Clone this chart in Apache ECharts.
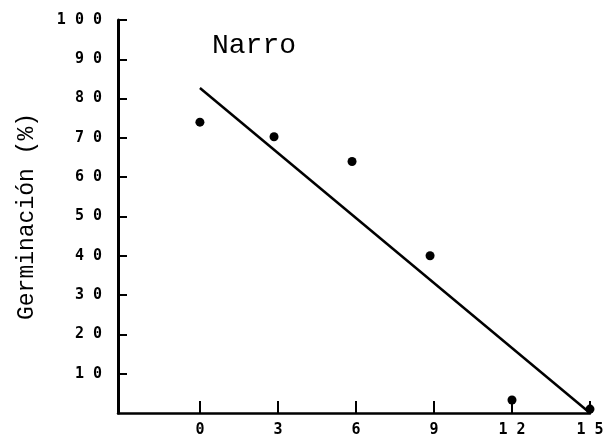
<!DOCTYPE html>
<html>
<head>
<meta charset="utf-8">
<script src="https://cdn.jsdelivr.net/npm/echarts@6/dist/echarts.min.js"></script>
<style>
html,body{margin:0;padding:0;background:#fff;}
#c{width:609px;height:442px;}
</style>
</head>
<body>
<div id="c"></div>
<script>
// Data
var titleText = 'Narro';
var yAxisTitle = 'Germinación (%)';
var xTicks = [0, 3, 6, 9, 12, 15];
var yTicks = [10, 20, 30, 40, 50, 60, 70, 80, 90, 100];
var pointX = [0, 2.85, 5.85, 8.85, 12, 15];
var pointY = [74, 70.3, 64, 40, 3.3, 1];
var lineX = [0, 15];
var lineY = [82.7, 0];

function spaced(v) { return String(v).split('').join(' '); }

var chart = echarts.init(document.getElementById('c'), null, {renderer: 'canvas'});
var monoFont = '"DejaVu Sans Mono", monospace';
chart.setOption({
  backgroundColor: '#fff',
  animation: false,
  title: {
    text: titleText,
    left: 207,
    top: 27,
    textStyle: {fontFamily: '"Liberation Mono", monospace', fontSize: 28, fontWeight: 'normal', color: '#000'}
  },
  grid: {left: 118, right: 19, top: 20, bottom: 29, containLabel: false},
  xAxis: {
    type: 'value',
    min: -3.15,
    max: 15,
    splitLine: {show: false},
    axisLine: {show: true, onZero: false, lineStyle: {color: '#000', width: 2.5}},
    axisTick: {show: true, inside: true, length: 12, customValues: xTicks, lineStyle: {color: '#000', width: 2}},
    axisLabel: {customValues: xTicks, formatter: function (v) { return spaced(v); }, margin: 10,
      fontFamily: monoFont, fontSize: 15, fontWeight: 'bold', color: '#000'}
  },
  yAxis: {
    type: 'value',
    min: 0,
    max: 100,
    name: yAxisTitle,
    nameLocation: 'middle',
    nameGap: 80,
    nameTextStyle: {fontFamily: '"Liberation Mono", monospace', fontSize: 23, color: '#000'},
    splitLine: {show: false},
    axisLine: {show: true, onZero: false, lineStyle: {color: '#000', width: 3}},
    axisTick: {show: true, inside: true, length: 9, customValues: yTicks, lineStyle: {color: '#000', width: 2}},
    axisLabel: {customValues: yTicks, formatter: function (v) { return spaced(v); }, margin: 16,
      fontFamily: monoFont, fontSize: 15, fontWeight: 'bold', color: '#000'}
  },
  series: [
    {
      type: 'line',
      data: lineX.map(function (x, i) { return [x, lineY[i]]; }),
      symbol: 'none',
      lineStyle: {color: '#000', width: 2.5},
      z: 3
    },
    {
      type: 'scatter',
      data: pointX.map(function (x, i) { return [x, pointY[i]]; }),
      symbol: 'circle',
      symbolSize: 9,
      itemStyle: {color: '#000', opacity: 1},
      z: 4
    }
  ]
});
</script>
</body>
</html>
